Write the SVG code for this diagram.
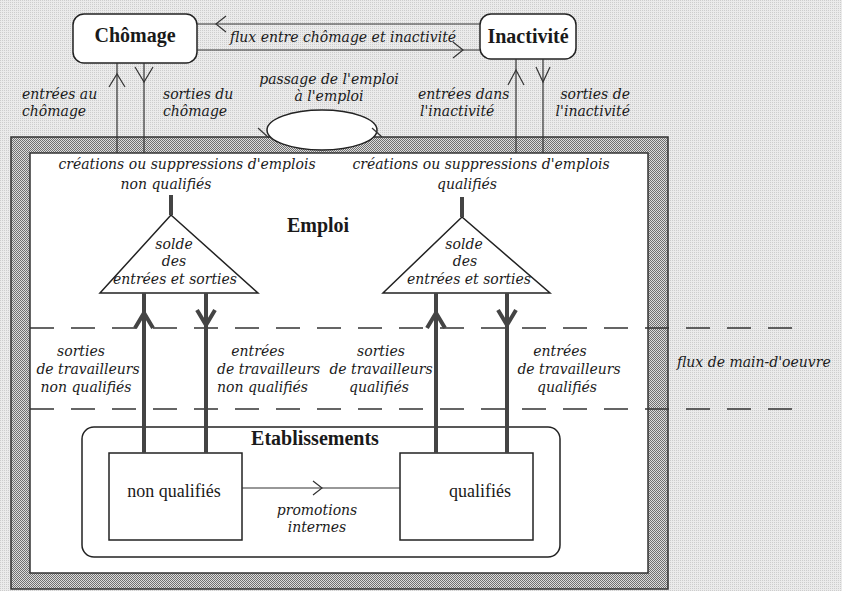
<svg xmlns="http://www.w3.org/2000/svg" width="842" height="591" viewBox="0 0 842 591">
<defs>
<pattern id="bg" width="2" height="2" patternUnits="userSpaceOnUse"><rect width="2" height="2" fill="#ebebeb"/><rect width="1" height="1" fill="#cdcdcd"/></pattern>
<pattern id="band" width="2" height="2" patternUnits="userSpaceOnUse"><rect width="2" height="2" fill="#dcdcdc"/><rect width="1" height="1" fill="#707070"/><rect x="1" y="1" width="1" height="1" fill="#707070"/></pattern>
<style>
.it{font-family:"DejaVu Serif","Liberation Serif",serif;font-style:italic;font-size:14px;fill:#1a1a1a}
.bd{font-family:"Liberation Serif","Times New Roman",serif;font-weight:bold;font-size:20px;fill:#1a1a1a}
.rm{font-family:"Liberation Serif","Times New Roman",serif;font-size:18px;fill:#1a1a1a}
.m{text-anchor:middle}
.e{text-anchor:end}
.box{fill:#fff;stroke:#222;stroke-width:1.5}
.thin{fill:none;stroke:#333;stroke-width:1.2}
.thick{fill:none;stroke:#444;stroke-width:4}
.dash{fill:none;stroke:#333;stroke-width:1.3;stroke-dasharray:24 17}
</style>
</defs>
<rect width="842" height="591" fill="url(#bg)"/>

<g id="emploi">
<rect x="11" y="137" width="657" height="452" fill="url(#band)" stroke="#333" stroke-width="1.5"/>
<rect x="30" y="153" width="618" height="420" fill="#fff" stroke="#333" stroke-width="1.5"/>
<text class="bd m" x="318" y="232" font-size="19">Emploi</text>
</g>

<g id="chomage">
<rect class="box" x="73" y="14" width="124" height="49" rx="11"/>
<text class="bd m" x="135" y="42">Chômage</text>
</g>

<g id="inactivite">
<rect class="box" x="480" y="14" width="96" height="45" rx="11"/>
<text class="bd m" x="528" y="43">Inactivité</text>
</g>

<g id="passage">
<ellipse cx="322" cy="130" rx="55" ry="20" fill="#fff" stroke="#222" stroke-width="1.5"/>
</g>

<g id="triangle-nq">
<polygon points="171,215 100,293 258,293" fill="#fff" stroke="#222" stroke-width="1.5"/>
<text class="it m" x="174" y="249">solde</text>
<text class="it m" x="174" y="266">des</text>
<text class="it m" x="175" y="284">entrées et sorties</text>
</g>

<g id="triangle-q">
<polygon points="462,217 383,293 550,293" fill="#fff" stroke="#222" stroke-width="1.5"/>
<text class="it m" x="464" y="249">solde</text>
<text class="it m" x="465" y="266">des</text>
<text class="it m" x="469" y="284">entrées et sorties</text>
</g>

<g id="etablissements">
<rect x="82" y="427" width="478" height="130" rx="12" fill="#fff" stroke="#222" stroke-width="1.5"/>
<text class="bd m" x="315" y="445" font-size="18">Etablissements</text>
</g>

<g id="box-nq">
<rect x="109" y="453" width="133" height="87" fill="#fff" stroke="#222" stroke-width="1.5"/>
<text class="rm m" x="174" y="497">non qualifiés</text>
</g>

<g id="box-q">
<rect x="400" y="453" width="133" height="87" fill="#fff" stroke="#222" stroke-width="1.5"/>
<text class="rm m" x="480" y="497">qualifiés</text>
</g>

<g id="connectors">
<line class="thin" x1="197" y1="24" x2="480" y2="24"/>
<polyline class="thin" points="226,16 216,24 226,32"/>
<line class="thin" x1="197" y1="50" x2="480" y2="50"/>
<polyline class="thin" points="453,42 463,50 453,58"/>
<line class="thin" x1="117" y1="63" x2="117" y2="153"/>
<polyline class="thin" points="109,87 117,74 125,87"/>
<line class="thin" x1="144" y1="63" x2="144" y2="153"/>
<polyline class="thin" points="135,67 144,82 153,67"/>
<line class="thin" x1="516" y1="59" x2="516" y2="153"/>
<polyline class="thin" points="508,85 516,70 524,85"/>
<line class="thin" x1="543" y1="59" x2="543" y2="153"/>
<polyline class="thin" points="536,67 543,82 550,67"/>
<line class="thin" x1="258" y1="128" x2="269" y2="138"/>
<line class="thin" x1="372" y1="128" x2="382" y2="137"/>
<line class="thick" x1="171" y1="195" x2="171" y2="215"/>
<line class="thick" x1="462" y1="197" x2="462" y2="217"/>
<line class="dash" x1="30" y1="328" x2="800" y2="328"/>
<line class="dash" x1="30" y1="409" x2="800" y2="409"/>
<line class="thick" x1="144" y1="293" x2="144" y2="453"/>
<polyline class="thick" points="135,328 144,313 153,328"/>
<line class="thick" x1="206" y1="293" x2="206" y2="453"/>
<polyline class="thick" points="197,310 206,325 215,310"/>
<line class="thick" x1="436" y1="293" x2="436" y2="453"/>
<polyline class="thick" points="427,328 436,313 445,328"/>
<line class="thick" x1="507" y1="293" x2="507" y2="453"/>
<polyline class="thick" points="498,310 507,325 516,310"/>
<line class="thin" x1="242" y1="488" x2="400" y2="488"/>
<polyline class="thin" points="313,481 322,488 313,495"/>
</g>

<g id="labels">
<text class="it m" x="343" y="42">flux entre chômage et inactivité</text>
<text class="it" x="22" y="99">entrées au</text>
<text class="it" x="22" y="116">chômage</text>
<text class="it" x="163" y="99">sorties du</text>
<text class="it" x="163" y="116">chômage</text>
<text class="it m" x="329" y="84">passage de l'emploi</text>
<text class="it m" x="329" y="101">à l'emploi</text>
<text class="it" x="418" y="99">entrées dans</text>
<text class="it" x="420" y="116">l'inactivité</text>
<text class="it e" x="630" y="99">sorties de</text>
<text class="it e" x="630" y="116">l'inactivité</text>
<text class="it m" x="187" y="169">créations ou suppressions d'emplois</text>
<text class="it m" x="166" y="189">non qualifiés</text>
<text class="it m" x="481" y="169">créations ou suppressions d'emplois</text>
<text class="it m" x="467" y="189">qualifiés</text>
<text class="it m" x="81" y="356">sorties</text>
<text class="it m" x="88" y="374">de travailleurs</text>
<text class="it m" x="86" y="392">non qualifiés</text>
<text class="it m" x="258" y="356">entrées</text>
<text class="it" x="217" y="374">de travailleurs</text>
<text class="it" x="217" y="392">non qualifiés</text>
<text class="it m" x="381" y="356">sorties</text>
<text class="it m" x="381" y="374">de travailleurs</text>
<text class="it m" x="379" y="392">qualifiés</text>
<text class="it m" x="560" y="356">entrées</text>
<text class="it m" x="569" y="374">de travailleurs</text>
<text class="it m" x="567" y="392">qualifiés</text>
<text class="it" x="677" y="367">flux de main-d'oeuvre</text>
<text class="it m" x="317" y="515">promotions</text>
<text class="it m" x="317" y="532">internes</text>
</g>
</svg>
